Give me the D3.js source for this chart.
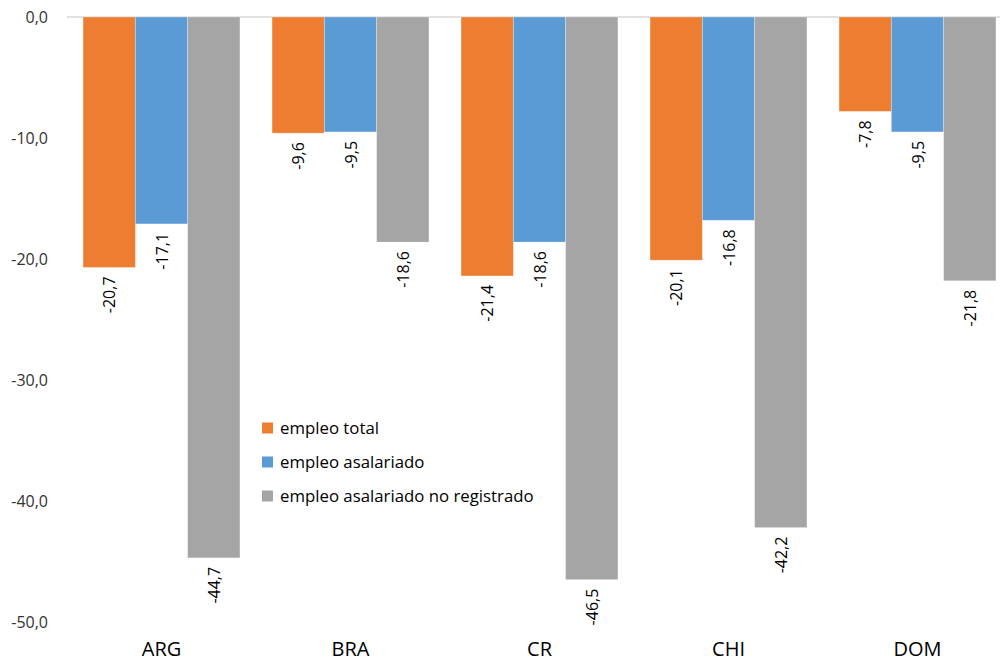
<!DOCTYPE html>
<html>
<head>
<meta charset="utf-8">
<script src="https://cdn.jsdelivr.net/npm/d3@7"></script>
<style>
  html, body { margin: 0; padding: 0; background: #fff; }
  svg { display: block; font-family: "Open Sans", "Liberation Sans", sans-serif; }
</style>
</head>
<body>
<svg id="chart" width="1000" height="666"></svg>
<script>
// Variación del empleo por país (%)
const categories = ["ARG", "BRA", "CR", "CHI", "DOM"];
const seriesNames = ["empleo total", "empleo asalariado", "empleo asalariado no registrado"];
const empleoTotal = [-20.7, -9.6, -21.4, -20.1, -7.8];
const empleoAsalariado = [-17.1, -9.5, -18.6, -16.8, -9.5];
const empleoNoRegistrado = [-44.7, -18.6, -46.5, -42.2, -21.8];
const yTicks = [0, -10, -20, -30, -40, -50];
const colors = ["#ED7D31", "#5B9BD5", "#A5A5A5"];

const series = [empleoTotal, empleoAsalariado, empleoNoRegistrado];
const svg = d3.select("#chart");

const plotLeft = 67, plotRight = 1012, plotTop = 17, plotBottom = 622;

const x = d3.scaleBand().domain(categories).range([plotLeft, plotRight]).paddingInner(0.17).paddingOuter(0.085);
const xs = d3.scaleBand().domain(d3.range(series.length)).range([0, x.bandwidth()]);
const y = d3.scaleLinear().domain([-50, 0]).range([plotBottom, plotTop]);

const fmt = v => d3.format(".1f")(v).replace(".", ",").replace("−", "-");

// zero baseline
svg.append("line")
  .attr("x1", plotLeft).attr("x2", 1000)
  .attr("y1", y(0)).attr("y2", y(0))
  .attr("stroke", "#D9D9D9").attr("stroke-width", 1.5);

// y axis labels
const yAxis = d3.axisLeft(y).tickValues(yTicks).tickSize(0).tickPadding(19).tickFormat(fmt);
const yg = svg.append("g").attr("transform", `translate(${plotLeft},0)`).call(yAxis);
yg.select(".domain").remove();
yg.selectAll("text").attr("font-size", 16).attr("fill", "#333")
  .attr("font-family", "'Open Sans', sans-serif");

// x axis labels
const xAxis = d3.axisBottom(x).tickSize(0).tickPadding(0);
const xg = svg.append("g").attr("transform", `translate(0,${plotBottom + 20})`).call(xAxis);
xg.select(".domain").remove();
xg.selectAll("text").attr("font-size", 20).attr("fill", "#000")
  .attr("font-family", "'Open Sans', sans-serif");

// bars
const groups = svg.append("g").selectAll("g")
  .data(categories).join("g")
  .attr("transform", d => `translate(${x(d)},0)`);

series.forEach((vals, si) => {
  groups.append("rect")
    .attr("x", xs(si))
    .attr("width", xs.bandwidth())
    .attr("y", y(0))
    .attr("height", (d, i) => y(vals[i]) - y(0))
    .attr("fill", colors[si])
    .attr("stroke", "rgba(255,255,255,0.35)")
    .attr("stroke-width", 0.8);

  groups.append("text")
    .attr("transform", (d, i) => `translate(${xs(si) + xs.bandwidth() / 2 + 6},${y(vals[i]) + 9}) rotate(-90)`)
    .attr("text-anchor", "end")
    .attr("font-size", 16)
    .attr("fill", "#000")
    .text((d, i) => fmt(vals[i]));
});

// legend
const legend = svg.append("g").attr("transform", "translate(262,428)");
seriesNames.forEach((name, i) => {
  const g = legend.append("g").attr("transform", `translate(0,${i * 34})`);
  g.append("rect").attr("x", 0).attr("y", -5.5).attr("width", 11).attr("height", 11).attr("fill", colors[i]);
  g.append("text").attr("x", 18).attr("y", 6).attr("font-size", 16.8).attr("fill", "#000").text(name);
});
</script>
</body>
</html>
